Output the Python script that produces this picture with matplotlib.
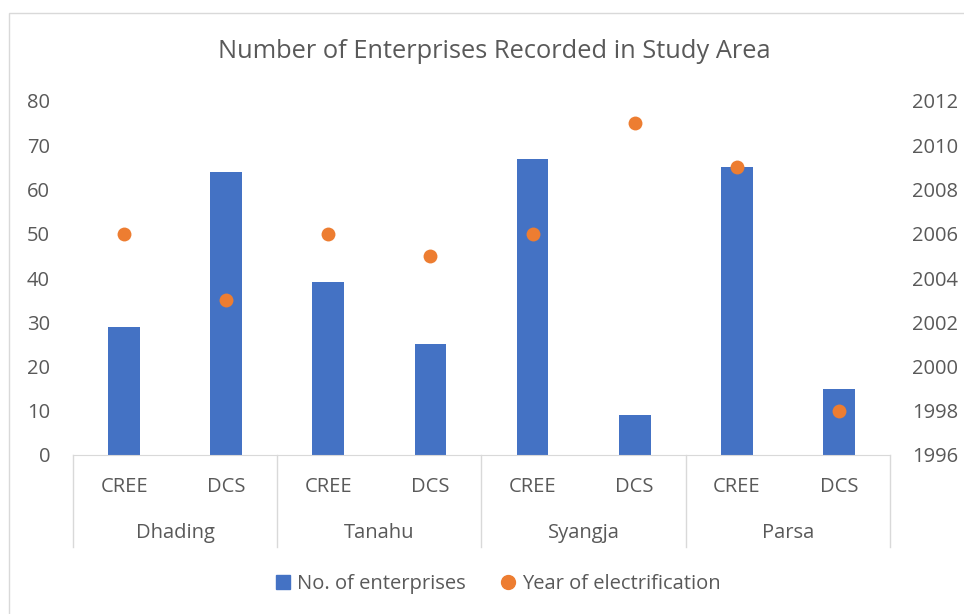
import matplotlib.pyplot as plt
from matplotlib.patches import Rectangle
from matplotlib.lines import Line2D
import matplotlib.transforms as mtransforms
import numpy as np

plt.rcParams['font.family'] = ['Open Sans', 'DejaVu Sans']

districts = ['Dhading', 'Tanahu', 'Syangja', 'Parsa']
types = ['CREE', 'DCS']
enterprises = [29, 64, 39, 25, 67, 9, 65, 15]
years = [2006, 2003, 2006, 2005, 2006, 2011, 2009, 1998]

text_col = '#595959'
line_col = '#D9D9D9'
blue = '#4472C4'
orange = '#ED7D31'

fig = plt.figure(figsize=(9.64, 6.14), dpi=100)
ax = fig.add_axes([73 / 964, 1 - 455 / 614, 817 / 964, 354 / 614])
ax2 = ax.twinx()

x = np.arange(len(enterprises))
ax.bar(x, enterprises, width=0.31, color=blue, zorder=2)
ax2.scatter(x, years, s=100, color=orange, zorder=3, linewidths=0)

ax.set_xlim(-0.5, len(x) - 0.5)
ax.set_ylim(0, 80)
ax.set_yticks(range(0, 81, 10))
ax2.set_ylim(1996, 2012)
ax2.set_yticks(range(1996, 2013, 2))

for a in (ax, ax2):
    for s in ['top', 'left', 'right']:
        a.spines[s].set_visible(False)
    a.spines['bottom'].set_color(line_col)
    a.tick_params(axis='y', length=0, labelsize=14.5, labelcolor=text_col)
ax.tick_params(axis='y', pad=16.5)
ax2.tick_params(axis='y', pad=16)
ax2.spines['bottom'].set_visible(False)

ax.set_xticks(x)
ax.set_xticklabels(types * len(districts))
ax.tick_params(axis='x', length=0, labelsize=14.5, labelcolor=text_col, pad=16)

trans = mtransforms.blended_transform_factory(ax.transData, ax.transAxes)
sep_depth = 92 / 354
for i in range(len(districts) + 1):
    ax.plot([i * 2 - 0.5] * 2, [0, -sep_depth], transform=trans, color=line_col,
            lw=1, clip_on=False)
for i, d in enumerate(districts):
    ax.text(i * 2 + 0.5, -78 / 354, d, transform=trans, ha='center', va='center',
            fontsize=14.5, color=text_col)

fig.text(494 / 964, 1 - 52 / 614, 'Number of Enterprises Recorded in Study Area',
         ha='center', va='center', fontsize=18.3, color=text_col)

handles = [Line2D([], [], marker='s', linestyle='none', color=blue, markersize=10),
           Line2D([], [], marker='o', linestyle='none', color=orange, markersize=10)]
fig.legend(handles, ['No. of enterprises', 'Year of electrification'],
           loc='center', bbox_to_anchor=(496 / 964, 1 - 584 / 614), ncol=2,
           frameon=False, fontsize=14.5, labelcolor=text_col, handletextpad=0.1,
           columnspacing=1.5, handlelength=1.2)

fig.patches.append(Rectangle((9 / 964, -0.01), 1.0, 1 - 13 / 614 + 0.01,
                             transform=fig.transFigure, fill=False,
                             edgecolor=line_col, lw=1))

fig.savefig('out.png', dpi=100)
